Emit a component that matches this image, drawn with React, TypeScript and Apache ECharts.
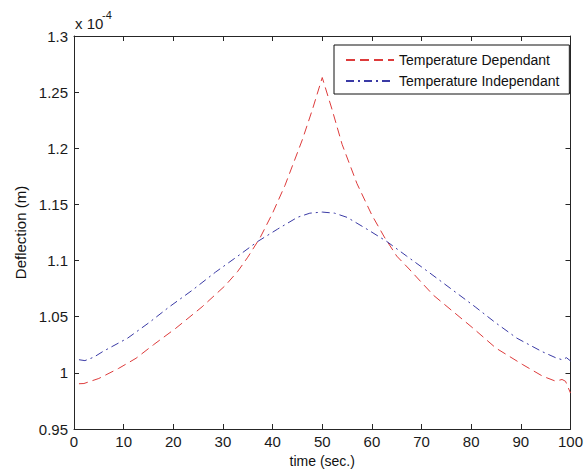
import React, { useEffect, useRef } from "react";
import * as echarts from "echarts";

// time (sec.) and deflection values in units of 1e-4 m
const tDep = [1, 2, 5, 9, 12.5, 16, 20.5, 25.8, 30.5, 33, 35, 37.5, 40, 42.5, 46, 48, 50, 52, 54, 57, 60, 62.5, 65, 67.5, 70, 72.4, 76.4, 80.4, 85, 90.4, 94.4, 97, 98.3, 99, 100];
const vDep = [0.9903, 0.9905, 0.995, 1.004, 1.013, 1.025, 1.0397, 1.0588, 1.0779, 1.0905, 1.103, 1.1205, 1.1423, 1.167, 1.2077, 1.2342, 1.263, 1.2342, 1.2035, 1.1685, 1.1405, 1.121, 1.104, 1.0925, 1.0805, 1.0691, 1.0544, 1.0397, 1.022, 1.0073, 0.997, 0.9926, 0.9941, 0.9925, 0.982];

const tInd = [1, 2.2, 4, 5.85, 10.8, 15.2, 19.2, 23.8, 28.5, 33, 37, 41, 45, 47.5, 50, 52.5, 55, 59, 63, 67, 71.5, 76.2, 80.8, 84.8, 89.2, 94.2, 97, 98.3, 99.2, 100];
const vInd = [1.0117, 1.0109, 1.014, 1.0191, 1.0309, 1.045, 1.0588, 1.0735, 1.0897, 1.104, 1.117, 1.128, 1.1385, 1.1422, 1.1432, 1.1422, 1.1385, 1.128, 1.117, 1.104, 1.0895, 1.074, 1.0588, 1.045, 1.0309, 1.0191, 1.0135, 1.0117, 1.0135, 1.0106];

const seriesNames = ["Temperature Dependant", "Temperature Independant"];
const xLabel = "time (sec.)";
const yLabel = "Deflection (m)";
const scaleLabel = "x 10";
const scaleExp = "-4";

const FONT = "'Liberation Sans', Arial, Helvetica, sans-serif";
const AX = "#262626";

export default function App() {
  const ref = useRef<HTMLDivElement>(null);
  useEffect(() => {
    if (!ref.current) return;
    const chart = echarts.init(ref.current, undefined, { renderer: "svg" });
    const axisCommon = {
      axisLine: { show: true, onZero: false, lineStyle: { color: AX, width: 1 } },
      axisTick: { show: true, inside: true, length: 5, lineStyle: { color: AX, width: 1 } },
      splitLine: { show: false },
    };
    const fmtY = (v: number) => String(parseFloat(v.toFixed(2)));
    chart.setOption({
      animation: false,
      backgroundColor: "#ffffff",
      textStyle: { fontFamily: FONT },
      grid: { left: 74, right: 11, top: 36, bottom: 41, containLabel: false },
      xAxis: [
        {
          type: "value", min: 0, max: 100, interval: 10, position: "bottom",
          name: xLabel, nameLocation: "middle", nameGap: 25,
          nameTextStyle: { fontSize: 14, color: "#111", fontFamily: FONT },
          axisLabel: { margin: 5, fontSize: 15, color: "#1a1a1a", fontFamily: FONT },
          ...axisCommon,
        },
        {
          type: "value", min: 0, max: 100, interval: 10, position: "top",
          axisLabel: { show: false },
          ...axisCommon,
        },
      ],
      yAxis: [
        {
          type: "value", min: 0.95, max: 1.3, interval: 0.05, position: "left",
          name: yLabel, nameLocation: "middle", nameGap: 39,
          nameTextStyle: { fontSize: 15, color: "#111", fontFamily: FONT },
          axisLabel: { margin: 6, fontSize: 15, color: "#1a1a1a", fontFamily: FONT, formatter: fmtY },
          ...axisCommon,
        },
        {
          type: "value", min: 0.95, max: 1.3, interval: 0.05, position: "right",
          axisLabel: { show: false },
          ...axisCommon,
        },
      ],
      legend: {
        data: seriesNames,
        orient: "vertical",
        left: 334,
        top: 45,
        padding: [8, 10, 6, 11],
        itemWidth: 48,
        itemHeight: 14,
        itemGap: 7,
        borderColor: "#111",
        borderWidth: 1,
        backgroundColor: "#ffffff",
        itemStyle: { opacity: 0 },
        textStyle: { fontSize: 14, color: "#111", fontFamily: FONT, lineHeight: 14 },
      },
      series: [
        {
          name: seriesNames[0], type: "line", symbol: "none", showSymbol: false,
          xAxisIndex: 0, yAxisIndex: 0,
          data: tDep.map((t, i) => [t, vDep[i]]),
          lineStyle: { color: "#dd3b3b", width: 1, type: [9, 5] },
          itemStyle: { color: "#dd3b3b" },
        },
        {
          name: seriesNames[1], type: "line", symbol: "none", showSymbol: false,
          xAxisIndex: 0, yAxisIndex: 0,
          data: tInd.map((t, i) => [t, vInd[i]]),
          lineStyle: { color: "#3a3aa5", width: 1, type: [8, 4, 2, 4] },
          itemStyle: { color: "#3a3aa5" },
        },
      ],
      graphic: [
        {
          type: "text", x: 75, y: 23,
          style: { text: scaleLabel, fontSize: 15, fill: "#1a1a1a", fontFamily: FONT, verticalAlign: "middle", align: "left" },
        },
        {
          type: "text", x: 102, y: 15,
          style: { text: scaleExp, fontSize: 11, fill: "#1a1a1a", fontFamily: FONT, verticalAlign: "middle", align: "left" },
        },
      ],
    });
    return () => chart.dispose();
  }, []);
  return (
    <div
      ref={ref}
      style={{ position: "absolute", left: 0, top: 0, width: 586, height: 473, background: "#fff" }}
    />
  );
}
